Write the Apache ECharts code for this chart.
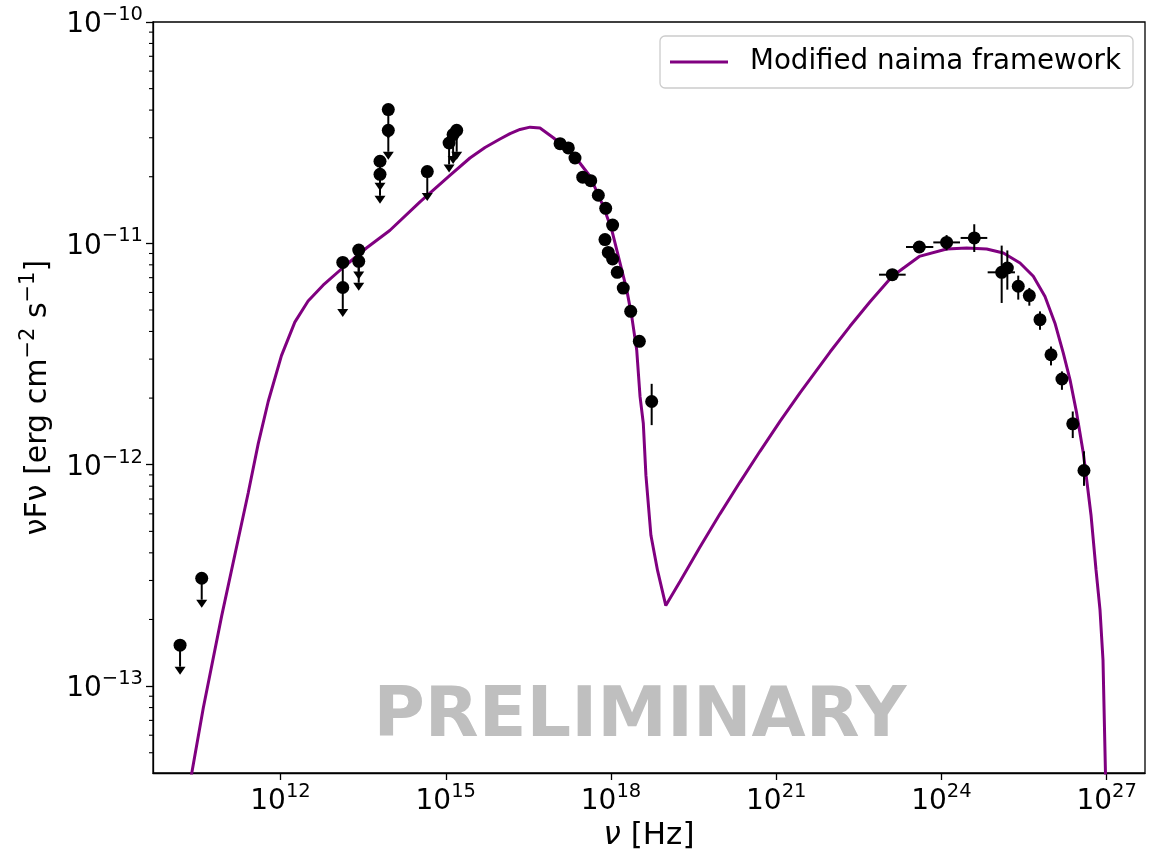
<!DOCTYPE html>
<html>
<head>
<meta charset="utf-8">
<script src="https://cdn.jsdelivr.net/npm/echarts@6/dist/echarts.min.js"></script>
<style>
  html, body { margin: 0; padding: 0; background: #ffffff; }
  #chart { width: 1153px; height: 852px; }
</style>
</head>
<body>
<div id="chart"></div>
<script>
// Broadband SED: synchrotron + inverse-Compton model curve, detections and upper limits.

// Model curve (frequency in Hz, nuF_nu in erg cm^-2 s^-1)
const modelNu = [
  1.85e10, 2.43e10, 3.96e10, 8.53e10, 1.71e11, 2.59e11, 3.94e11, 5.98e11,
  1.04e12, 1.82e12, 3.17e12, 5.93e12, 1.37e13, 3.63e13, 9.62e13, 3.41e14,
  1.19e15, 2.75e15, 5.16e15, 9.66e15, 1.47e16, 2.23e16, 3.39e16, 5.14e16,
  8.98e16, 1.29e17, 2.07e17, 4.16e17, 7.26e17, 1.03e18, 1.46e18, 1.93e18,
  2.38e18, 2.93e18, 3.37e18, 3.86e18, 4.31e18, 5.31e18, 7.00e18, 9.89e18,
  1.79e19, 4.13e19, 9.53e19, 2.20e20, 5.07e20, 1.17e21, 2.70e21, 9.47e21,
  2.18e22, 5.05e22, 1.28e23, 3.96e23, 1.24e24, 2.87e24, 6.62e24, 1.33e25,
  2.67e25, 4.65e25, 7.58e25, 1.15e26, 1.63e26, 2.16e26, 2.85e26, 3.76e26,
  4.33e26, 5.19e26, 6.40e26, 7.56e26, 8.57e26, 9.51e26, 9.91e26
];
const modelFlux = [
  2.72e-14, 4.01e-14, 7.96e-14, 2.07e-13, 4.62e-13, 7.45e-13, 1.245e-12, 1.93e-12,
  3.11e-12, 4.41e-12, 5.49e-12, 6.47e-12, 7.78e-12, 9.53e-12, 1.143e-11, 1.54e-11,
  2.03e-11, 2.43e-11, 2.71e-11, 2.96e-11, 3.13e-11, 3.27e-11, 3.35e-11, 3.32e-11,
  3.00e-11, 2.79e-11, 2.52e-11, 2.01e-11, 1.47e-11, 1.153e-11, 8.15e-12, 6.18e-12,
  4.68e-12, 3.30e-12, 2.03e-12, 1.54e-12, 8.95e-13, 4.80e-13, 3.33e-13, 2.31e-13,
  2.97e-13, 4.25e-13, 6.00e-13, 8.35e-13, 1.15e-12, 1.57e-12, 2.11e-12, 3.23e-12,
  4.22e-12, 5.45e-12, 7.10e-12, 8.73e-12, 9.43e-12, 9.53e-12, 9.43e-12, 9.05e-12,
  8.15e-12, 7.10e-12, 5.75e-12, 4.36e-12, 3.19e-12, 2.42e-12, 1.71e-12, 1.13e-12,
  8.55e-13, 5.93e-13, 3.35e-13, 2.21e-13, 1.31e-13, 4.01e-14, 1.82e-14
];

// Upper limits (radio, IR, optical, UV)
const limitNu = [
  1.50e10, 3.71e10, 1.35e13, 1.35e13, 2.63e13, 2.63e13, 6.40e13, 6.40e13,
  9.06e13, 9.06e13, 4.62e14, 1.15e15, 1.36e15, 1.58e15
];
const limitFlux = [
  1.53e-13, 3.07e-13, 8.20e-12, 6.32e-12, 9.33e-12, 8.30e-12, 2.35e-11, 2.05e-11,
  4.02e-11, 3.24e-11, 2.11e-11, 2.84e-11, 3.10e-11, 3.24e-11
];

// X-ray detections
const xrayNu = [
  1.19e17, 1.68e17, 2.22e17, 3.07e17, 4.29e17, 5.89e17, 8.02e17, 1.07e18,
  7.78e17, 8.93e17, 1.07e18, 1.30e18, 1.67e18, 2.28e18, 3.27e18, 5.48e18
];
const xrayFlux = [
  2.82e-11, 2.70e-11, 2.43e-11, 1.99e-11, 1.92e-11, 1.65e-11, 1.44e-11, 1.21e-11,
  1.04e-11, 9.10e-12, 8.50e-12, 7.40e-12, 6.28e-12, 4.93e-12, 3.61e-12, 1.93e-12
];
const xrayFluxLo = [null, null, null, null, null, null, null, null,
  null, null, null, null, null, null, null, 1.51e-12];
const xrayFluxHi = [null, null, null, null, null, null, null, null,
  null, null, null, null, null, null, null, 2.32e-12];

// Gamma-ray detections (GeV bins with energy ranges, then TeV points)
const gammaNu = [
  1.28e23, 3.96e23, 1.24e24, 3.94e24, 1.24e25, 1.57e25, 2.48e25, 3.94e25,
  6.15e25, 9.75e25, 1.54e26, 2.42e26, 3.87e26
];
const gammaNuLo = [7.36e22, 2.27e23, 7.11e23, 2.23e24, 6.90e24, null, null, null,
  null, null, null, null, null];
const gammaNuHi = [2.24e23, 7.11e23, 2.17e24, 6.79e24, 2.16e25, null, null, null,
  null, null, null, null, null];
const gammaFlux = [
  7.22e-12, 9.63e-12, 1.01e-11, 1.058e-11, 7.40e-12, 7.74e-12, 6.40e-12, 5.81e-12,
  4.52e-12, 3.14e-12, 2.44e-12, 1.53e-12, 9.42e-13
];
const gammaFluxLo = [null, null, 9.30e-12, 9.14e-12, 5.38e-12, 6.18e-12, 5.57e-12, 5.23e-12,
  4.07e-12, 2.81e-12, 2.18e-12, 1.32e-12, 8.03e-13];
const gammaFluxHi = [null, null, 1.09e-11, 1.22e-11, 9.77e-12, 9.29e-12, 7.15e-12, 6.29e-12,
  4.93e-12, 3.42e-12, 2.64e-12, 1.74e-12, 1.15e-12];

// Axes
const xTickValues = [1e12, 1e15, 1e18, 1e21, 1e24, 1e27];
const yTickValues = [1e-13, 1e-12, 1e-11, 1e-10];
const yMinorTickValues = [
  5e-14, 6e-14, 7e-14, 8e-14, 9e-14,
  2e-13, 3e-13, 4e-13, 5e-13, 6e-13, 7e-13, 8e-13, 9e-13,
  2e-12, 3e-12, 4e-12, 5e-12, 6e-12, 7e-12, 8e-12, 9e-12,
  2e-11, 3e-11, 4e-11, 5e-11, 6e-11, 7e-11, 8e-11, 9e-11
];
const X_MIN = 4.84e9, X_MAX = 4.96e27;
const Y_MIN = 4.05e-14, Y_MAX = 1e-10;

const LEGEND_NAME = 'Modified naima framework';
const FONT = 'DejaVu Sans';
const MODEL_COLOR = '#800080';
const LIMIT_FRACTION = 0.8;   // upper-limit arrow reaches down to this fraction of the value

// ---- build series data ----
const modelData = modelNu.map((v, i) => [v, modelFlux[i]]);
const limitData = limitNu.map((v, i) => [v, limitFlux[i]]);

const detections = [];
xrayNu.forEach((v, i) => {
  const f = xrayFlux[i];
  detections.push([v, f, v, v, xrayFluxLo[i] ?? f, xrayFluxHi[i] ?? f]);
});
gammaNu.forEach((v, i) => {
  const f = gammaFlux[i];
  detections.push([v, f, gammaNuLo[i] ?? v, gammaNuHi[i] ?? v, gammaFluxLo[i] ?? f, gammaFluxHi[i] ?? f]);
});
const detectionPoints = detections.map(d => [d[0], d[1]]);

function powerLabel(value) {
  const e = Math.round(Math.log10(value));
  const s = e < 0 ? '\u2212' + Math.abs(e) : String(e);
  return '{b|10}{s|' + s + '}';
}
const tickRich = {
  b: { fontFamily: FONT, fontSize: 28, color: '#000', lineHeight: 34, verticalAlign: 'bottom' },
  s: { fontFamily: FONT, fontSize: 19.5, color: '#000', lineHeight: 19, verticalAlign: 'top' }
};

const chart = echarts.init(document.getElementById('chart'), null, { renderer: 'canvas' });

chart.setOption({
  animation: false,
  backgroundColor: '#ffffff',
  grid: {
    left: 153, right: 8, top: 22, bottom: 79,
    containLabel: false,
    outerBoundsMode: 'none',
    show: true, borderColor: '#000', borderWidth: 1.3, backgroundColor: 'transparent'
  },
  legend: {
    right: 20, top: 36,
    selectedMode: false,
    data: [{ name: LEGEND_NAME, icon: 'rect' }],
    itemWidth: 58, itemHeight: 3,
    padding: [12, 12, 12, 10],
    borderColor: '#cccccc', borderWidth: 1.3, borderRadius: 5,
    backgroundColor: 'rgba(255,255,255,0.8)',
    textStyle: { fontFamily: FONT, fontSize: 27.7, color: '#000', padding: [0, 0, 0, 17], lineHeight: 26 }
  },
  xAxis: {
    type: 'log',
    min: X_MIN, max: X_MAX,
    name: '{i|\u03BD}{n| [Hz]}',
    nameLocation: 'middle',
    nameGap: 46,
    nameTextStyle: {
      rich: {
        i: { fontFamily: FONT, fontSize: 31, fontStyle: 'italic', color: '#000' },
        n: { fontFamily: FONT, fontSize: 31, color: '#000' }
      }
    },
    axisLine: { show: true, lineStyle: { color: '#000', width: 1.3 } },
    axisTick: { show: true, length: 7, lineStyle: { color: '#000', width: 1.3 }, customValues: xTickValues },
    axisLabel: { show: true, margin: 9, customValues: xTickValues, formatter: powerLabel, rich: tickRich },
    splitLine: { show: false },
    minorTick: { show: false }
  },
  yAxis: {
    type: 'log',
    min: Y_MIN, max: Y_MAX,
    name: '{n|\u03BDF\u03BD [erg cm}{s|\u22122}{n| s}{s|\u22121}{n|]}',
    nameLocation: 'middle',
    nameGap: 100,
    nameTextStyle: {
      rich: {
        n: { fontFamily: FONT, fontSize: 30, color: '#000', lineHeight: 35, verticalAlign: 'bottom' },
        s: { fontFamily: FONT, fontSize: 21, color: '#000', lineHeight: 21, verticalAlign: 'top' }
      }
    },
    axisLine: { show: true, lineStyle: { color: '#000', width: 1.3 } },
    axisTick: { show: true, length: 7, lineStyle: { color: '#000', width: 1.3 }, customValues: yTickValues },
    axisLabel: { show: true, margin: 10, customValues: yTickValues, formatter: powerLabel, rich: tickRich },
    splitLine: { show: false },
    minorTick: { show: false }
  },
  graphic: [{
    type: 'text',
    x: 640, y: 718,
    z: 1,
    style: {
      text: 'PRELIMINARY',
      font: 'bold 70px "DejaVu Sans"',
      fill: '#bfbfbf',
      align: 'center',
      verticalAlign: 'middle'
    }
  }],
  series: [
    {
      // minor ticks on the flux axis at 2..9 x 10^n
      type: 'custom',
      name: 'minor-ticks',
      silent: true,
      data: yMinorTickValues.map(v => [X_MIN, v]),
      encode: { x: 0, y: 1 },
      renderItem: (params, api) => {
        const p = api.coord([api.value(0), api.value(1)]);
        return {
          type: 'line',
          shape: { x1: p[0] - 4, y1: p[1], x2: p[0], y2: p[1] },
          style: { stroke: '#000', lineWidth: 1.1 }
        };
      },
      z: 5
    },
    {
      type: 'line',
      name: LEGEND_NAME,
      data: modelData,
      showSymbol: false,
      symbol: 'none',
      clip: true,
      smooth: false,
      lineStyle: { color: MODEL_COLOR, width: 3 },
      itemStyle: { color: MODEL_COLOR },
      z: 2
    },
    {
      // upper-limit arrows
      type: 'custom',
      name: 'limit-arrows',
      silent: true,
      data: limitData,
      encode: { x: 0, y: 1 },
      renderItem: (params, api) => {
        const nu = api.value(0), f = api.value(1);
        const p0 = api.coord([nu, f]);
        const p1 = api.coord([nu, f * LIMIT_FRACTION]);
        return {
          type: 'group',
          children: [
            { type: 'line', shape: { x1: p0[0], y1: p0[1], x2: p1[0], y2: p1[1] },
              style: { stroke: '#000', lineWidth: 2 } },
            { type: 'polygon',
              shape: { points: [[p1[0] - 5.5, p1[1]], [p1[0] + 5.5, p1[1]], [p1[0], p1[1] + 8]] },
              style: { fill: '#000' } }
          ]
        };
      },
      z: 3
    },
    {
      type: 'scatter',
      name: 'limits',
      data: limitData,
      symbol: 'circle',
      symbolSize: 13,
      itemStyle: { color: '#000', opacity: 1 },
      z: 4
    },
    {
      // error bars of detected points
      type: 'custom',
      name: 'error-bars',
      silent: true,
      data: detections,
      encode: { x: [0, 2, 3], y: [1, 4, 5] },
      renderItem: (params, api) => {
        const nu = api.value(0), f = api.value(1);
        const nuLo = api.value(2), nuHi = api.value(3);
        const fLo = api.value(4), fHi = api.value(5);
        const children = [];
        if (fLo !== fHi) {
          const a = api.coord([nu, fLo]), b = api.coord([nu, fHi]);
          children.push({ type: 'line', shape: { x1: a[0], y1: a[1], x2: b[0], y2: b[1] },
            style: { stroke: '#000', lineWidth: 2 } });
        }
        if (nuLo !== nuHi) {
          const a = api.coord([nuLo, f]), b = api.coord([nuHi, f]);
          children.push({ type: 'line', shape: { x1: a[0], y1: a[1], x2: b[0], y2: b[1] },
            style: { stroke: '#000', lineWidth: 2 } });
        }
        return { type: 'group', children };
      },
      z: 3
    },
    {
      type: 'scatter',
      name: 'detections',
      data: detectionPoints,
      symbol: 'circle',
      symbolSize: 13,
      itemStyle: { color: '#000', opacity: 1 },
      z: 4
    }
  ]
});
</script>
</body>
</html>
